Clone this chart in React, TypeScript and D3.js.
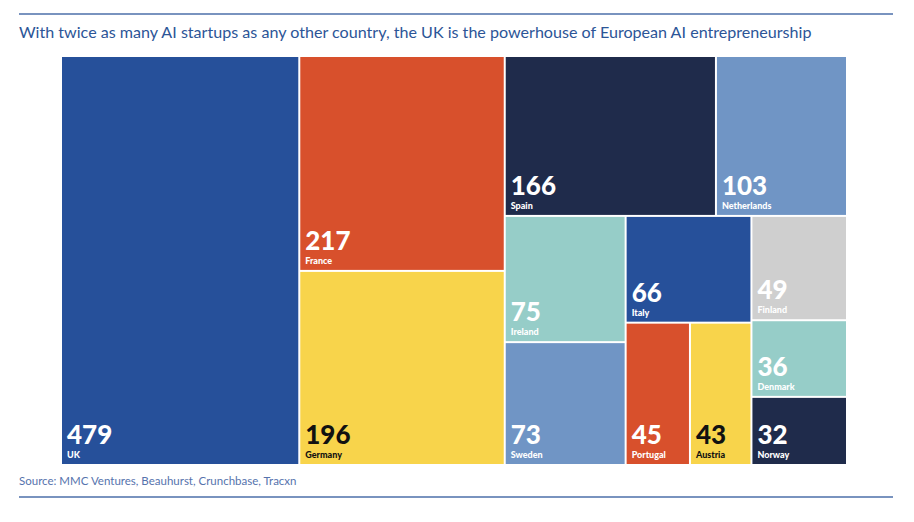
import React, { useEffect, useRef } from 'react';
import * as d3 from 'd3';

const countries = ['UK', 'France', 'Germany', 'Spain', 'Netherlands', 'Ireland', 'Sweden', 'Italy', 'Portugal', 'Austria', 'Finland', 'Denmark', 'Norway'];
const startups = [479, 217, 196, 166, 103, 75, 73, 66, 45, 43, 49, 36, 32];
const fills = ['#26509a', '#d8502c', '#f8d44b', '#1f2b4b', '#7095c5', '#96cdc8', '#7095c5', '#26509a', '#d8502c', '#f8d44b', '#cfcfcf', '#96cdc8', '#1f2b4b'];
const darkText = ['Germany', 'Austria'];

// how the blocks nest: 'h' splits left to right, 'v' splits top to bottom
const arrangement = {
  dir: 'h',
  children: [
    'UK',
    { dir: 'v', children: ['France', 'Germany'] },
    {
      dir: 'v',
      children: [
        { dir: 'h', children: ['Spain', 'Netherlands'] },
        {
          dir: 'h',
          children: [
            { dir: 'v', children: ['Ireland', 'Sweden'] },
            { dir: 'v', children: ['Italy', { dir: 'h', children: ['Portugal', 'Austria'] }] },
            { dir: 'v', children: ['Finland', 'Denmark', 'Norway'] },
          ],
        },
      ],
    },
  ],
};

const title = 'With twice as many AI startups as any other country, the UK is the powerhouse of European AI entrepreneurship';
const source = 'Source: MMC Ventures, Beauhurst, Crunchbase, Tracxn';

const W = 914;
const H = 522;
const area = { left: 62, top: 57, right: 846, bottom: 464 };

const toNode = (n: any): any =>
  typeof n === 'string' ? { name: n } : { dir: n.dir, children: n.children.map(toNode) };

const Treemap = () => {
  const ref = useRef<SVGSVGElement>(null);

  useEffect(() => {
    const svg = d3.select(ref.current);
    svg.selectAll('*').remove();

    const valueOf = (name: string) => startups[countries.indexOf(name)];

    const root = d3
      .hierarchy(toNode(arrangement))
      .sum((d: any) => (d.name ? valueOf(d.name) : 0));

    d3.treemap()
      .size([area.right - area.left, area.bottom - area.top])
      .paddingInner(2)
      .tile((node: any, x0, y0, x1, y1) => {
        if (node.data.dir === 'h') d3.treemapDice(node, x0, y0, x1, y1);
        else d3.treemapSlice(node, x0, y0, x1, y1);
      })(root as any);

    const line = '#4d6faa';
    svg.append('line').attr('x1', 19).attr('x2', 893).attr('y1', 14).attr('y2', 14)
      .attr('stroke', line).attr('stroke-width', 1.5);
    svg.append('line').attr('x1', 19).attr('x2', 893).attr('y1', 497).attr('y2', 497)
      .attr('stroke', line).attr('stroke-width', 1.5);

    svg.append('text')
      .attr('x', 19).attr('y', 38)
      .attr('fill', '#2c5597')
      .style('font-family', 'Lato, sans-serif')
      .style('font-size', '16.1px')
      .text(title);

    svg.append('text')
      .attr('x', 19).attr('y', 485)
      .attr('fill', '#5673ad')
      .style('font-family', 'Lato, sans-serif')
      .style('font-size', '11.5px')
      .text(source);

    const g = svg.append('g').attr('transform', `translate(${area.left},${area.top})`);

    const cells = g.selectAll('g.cell')
      .data(root.leaves() as any[])
      .join('g')
      .attr('class', 'cell')
      .attr('transform', (d: any) => `translate(${d.x0},${d.y0})`);

    cells.append('rect')
      .attr('width', (d: any) => d.x1 - d.x0)
      .attr('height', (d: any) => d.y1 - d.y0)
      .attr('fill', (d: any) => fills[countries.indexOf(d.data.name)]);

    const txt = (d: any) => (darkText.includes(d.data.name) ? '#111111' : '#ffffff');

    cells.append('text')
      .attr('x', 5)
      .attr('y', (d: any) => d.y1 - d.y0 - 20)
      .attr('fill', txt)
      .style('font-family', 'Lato, sans-serif')
      .style('font-weight', 900)
      .style('font-size', '26px')
      .text((d: any) => valueOf(d.data.name));

    cells.append('text')
      .attr('x', 5)
      .attr('y', (d: any) => d.y1 - d.y0 - 6)
      .attr('fill', txt)
      .style('font-family', 'Lato, sans-serif')
      .style('font-weight', 900)
      .style('font-size', '9px')
      .text((d: any) => d.data.name);
  }, []);

  return <svg ref={ref} width={W} height={H} style={{ position: 'absolute', left: 0, top: 0 }} />;
};

export default function App() {
  return <Treemap />;
}
